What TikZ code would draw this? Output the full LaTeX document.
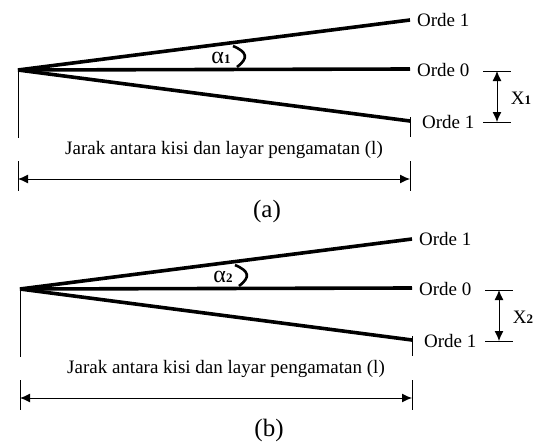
\documentclass[tikz,border=0pt]{standalone}
\usepackage{fontspec}
\setmainfont{Liberation Serif}
\usetikzlibrary{arrows.meta}
\begin{document}
\begin{tikzpicture}[x=1pt,y=-1pt,
  ray/.style={line width=3.6pt},
  thinline/.style={line width=1pt},
  dimarrow/.style={thinline,{Latex[length=10pt,width=9pt]}-{Latex[length=10pt,width=9pt]}},
  lbl/.style={font=\fontsize{19}{22}\selectfont, inner sep=0pt},
  capt/.style={font=\fontsize{25}{28}\selectfont, inner sep=0pt},
  anglearc/.style={line width=2.6pt}]
\useasboundingbox (0,0) rectangle (539,447);
\foreach \p/\dx/\dy/\n in {a/0/0/1, b/2/219/2}{
\begin{scope}[shift={(\dx,\dy)}]
  % rays
  \coordinate (O\p) at (18,70);
  \coordinate (T\p) at (410,20);
  \coordinate (M\p) at (410,69);
  \coordinate (B\p) at (410,121);
  \draw[ray] (O\p) -- (T\p);
  \draw[ray] (O\p) -- (M\p);
  \draw[ray] (O\p) -- (B\p);
  % labels at ends
  \node[lbl,anchor=west] (oT\p) at (417,20) {Orde 1};
  \node[lbl,anchor=west] (oM\p) at (417,70) {Orde 0};
  \node[lbl,anchor=west] (oB\p) at (422,122) {Orde 1};
  % angle
  \coordinate (arcA\p) at (233,46);
  \coordinate (arcB\p) at (237,67);
  \draw[anglearc] (arcA\p) .. controls (247,52) and (249,58) .. (arcB\p);
  \node[lbl] (al\p) at (221,58) {{\fontsize{24}{24}\selectfont α}{\fontsize{13}{13}\selectfont\bfseries\n}};
  % verticals
  \coordinate (L1\p) at (18,138);
  \coordinate (L2\p) at (18,161);
  \coordinate (L3\p) at (18,191);
  \draw[thinline] (O\p) -- (L1\p);
  \draw[thinline] (L2\p) -- (L3\p);
  \coordinate (R0\p) at (410,117);
  \coordinate (R1\p) at (410,137);
  \coordinate (R2\p) at (410,161);
  \coordinate (R3\p) at (410,191);
  \draw[thinline] (R0\p) -- (R1\p);
  \draw[thinline] (R2\p) -- (R3\p);
  % distance arrow
  \coordinate (DL\p) at (18,179);
  \coordinate (DR\p) at (410,179);
  \draw[dimarrow] (DL\p) -- (DR\p);
  \node[lbl] (jarak\p) at (224,150) {Jarak antara kisi dan layar pengamatan (l)};
  % X bracket
  \coordinate (XT1\p) at (483,71);
  \coordinate (XT2\p) at (511,71);
  \coordinate (XB1\p) at (483,122);
  \coordinate (XB2\p) at (511,122);
  \coordinate (XAT\p) at (497,71);
  \coordinate (XAB\p) at (497,122);
  \draw[thinline] (XT1\p) -- (XT2\p);
  \draw[thinline] (XB1\p) -- (XB2\p);
  \draw[dimarrow] (XAT\p) -- (XAB\p);
  \node[lbl] (X\p) at (521,98) {X{\fontsize{13}{13}\selectfont\bfseries\n}};
  % caption
  \node[capt] (cap\p) at (267,211) {(\p)};
\end{scope}}
\end{tikzpicture}
\end{document}
